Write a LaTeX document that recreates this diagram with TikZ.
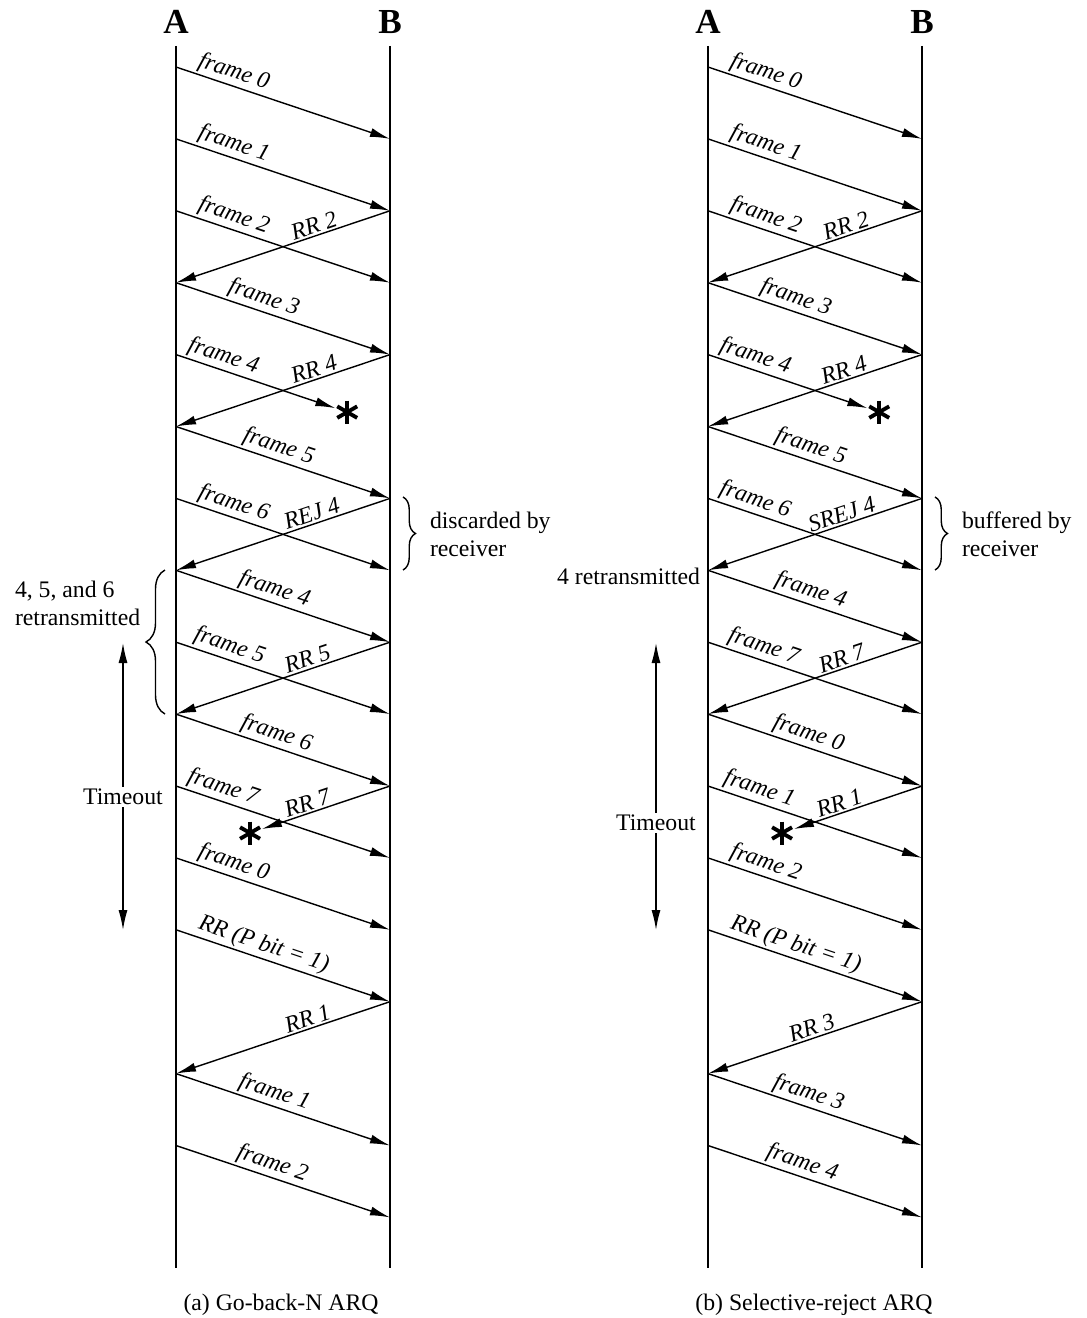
\documentclass[tikz,border=0pt]{standalone}
\usepackage{fontspec}
\setmainfont{Liberation Serif}
\usetikzlibrary{arrows.meta,calc,decorations.pathreplacing}

\begin{document}
\begin{tikzpicture}[x=0.02cm, y=-0.02cm, line width=0.8pt]
\tikzset{ >={Latex[length=0.4cm, width=0.18cm]}, inner sep=0pt, outer sep=0pt,
  msg/.style={->},
  lbl/.style={sloped, above=1.5pt, font=\fontsize{13.5}{16}\selectfont\itshape},
  note/.style={font=\fontsize{13.5}{16}\selectfont, align=left},
  party/.style={font=\fontsize{20}{24}\selectfont\bfseries},
  lost/.style={circle, fill=white, minimum size=0.5cm, path picture={
      \foreach \ang in {90,30,-30}
        \draw [line width=2.2pt] (path picture bounding box.center) +(\ang:0.23cm) -- +(\ang+180:0.23cm);}},
  curly/.style={decorate, decoration={brace, amplitude=#1}},
}

\useasboundingbox (0,0) rectangle (1087,1318);
%\draw [lightgray, dashed] (0,0) grid [step=100] (1087,1318);

% time slots on both stations
\foreach \k in {0,...,16} {
  \coordinate (La\k) at (176,{67+71.9*\k});
  \coordinate (Lb\k) at (390,{67+71.9*\k});
  \coordinate (Ra\k) at (708,{67+71.9*\k});
  \coordinate (Rb\k) at (922,{67+71.9*\k});
}

\node [party] (LA) at (176,22) {A};
\node [party] (LB) at (390,22) {B};
\node [party] (RA) at (708,22) {A};
\node [party] (RB) at (922,22) {B};

\coordinate (LAtop) at (176,46);  \coordinate (LAbot) at (176,1268);
\coordinate (LBtop) at (390,46);  \coordinate (LBbot) at (390,1268);
\coordinate (RAtop) at (708,46);  \coordinate (RAbot) at (708,1268);
\coordinate (RBtop) at (922,46);  \coordinate (RBbot) at (922,1268);

\draw (LAtop) -- (LAbot);
\draw (LBtop) -- (LBbot);
\draw (RAtop) -- (RAbot);
\draw (RBtop) -- (RBbot);

% (a) go-back-N
\node [lost] (Ls1) at ($(La4)!0.8!(Lb5)$) {};
\node [lost] (Ls2) at ($(Lb10)!0.654!(La11)$) {};

\draw [msg] (La0)  -- node [lbl, pos=0.25] {frame 0} (Lb1);
\draw [msg] (La1)  -- node [lbl, pos=0.25] {frame 1} (Lb2);
\draw [msg] (La2)  -- node [lbl, pos=0.25] {frame 2} (Lb3);
\draw [msg] (Lb2)  -- node [lbl, pos=0.34] {RR 2} (La3);
\draw [msg] (La3)  -- node [lbl, pos=0.39] {frame 3} (Lb4);
\draw [msg] (La4)  -- node [lbl, pos=0.27] {frame 4} (Ls1);
\draw [msg] (Lb4)  -- node [lbl, pos=0.34] {RR 4} (La5);
\draw [msg] (La5)  -- node [lbl, pos=0.46] {frame 5} (Lb6);
\draw [msg] (La6)  -- node [lbl, pos=0.25] {frame 6} (Lb7);
\draw [msg] (Lb6)  -- node [lbl, pos=0.35] {REJ 4} (La7);
\draw [msg] (La7)  -- node [lbl, pos=0.44] {frame 4} (Lb8);
\draw [msg] (La8)  -- node [lbl, pos=0.23] {frame 5} (Lb9);
\draw [msg] (Lb8)  -- node [lbl, pos=0.37] {RR 5} (La9);
\draw [msg] (La9)  -- node [lbl, pos=0.45] {frame 6} (Lb10);
\draw [msg] (La10) -- node [lbl, pos=0.2]  {frame 7} (Lb11);
\draw [msg] (Lb10) -- node [lbl, pos=0.62] {RR 7} (Ls2);
\draw [msg] (La11) -- node [lbl, pos=0.25] {frame 0} (Lb12);
\draw [msg] (La12) -- node [lbl, pos=0.39] {RR (P bit = 1)} (Lb13);
\draw [msg] (Lb13) -- node [lbl, pos=0.37] {RR 1} (La14);
\draw [msg] (La14) -- node [lbl, pos=0.44] {frame 1} (Lb15);
\draw [msg] (La15) -- node [lbl, pos=0.43] {frame 2} (Lb16);

\coordinate (Ld1) at (403,497);  \coordinate (Ld2) at (403,570);
\draw [curly=0.25cm] (Ld1) -- (Ld2);
\node [note, anchor=west] (Ldisc) at (430,534) {discarded by\\receiver};

\coordinate (Lr1) at (165,714);  \coordinate (Lr2) at (165,570);
\draw [curly=0.38cm] (Lr1) -- (Lr2);
\node [note, anchor=west] (Lretx) at (15,603) {4, 5, and 6\\retransmitted};

\coordinate (Lt1) at (123,643);  \coordinate (Lt2) at (123,930);
\draw [<->] (Lt1) -- (Lt2);
\node [note, fill=white, inner sep=1pt] (Ltime) at (123,797) {Timeout};

\node [note] (Lcap) at (281,1305) {(a) Go-back-N ARQ};

% (b) selective-reject
\node [lost] (Rs1) at ($(Ra4)!0.8!(Rb5)$) {};
\node [lost] (Rs2) at ($(Rb10)!0.654!(Ra11)$) {};

\draw [msg] (Ra0)  -- node [lbl, pos=0.25] {frame 0} (Rb1);
\draw [msg] (Ra1)  -- node [lbl, pos=0.25] {frame 1} (Rb2);
\draw [msg] (Ra2)  -- node [lbl, pos=0.25] {frame 2} (Rb3);
\draw [msg] (Rb2)  -- node [lbl, pos=0.34] {RR 2} (Ra3);
\draw [msg] (Ra3)  -- node [lbl, pos=0.39] {frame 3} (Rb4);
\draw [msg] (Ra4)  -- node [lbl, pos=0.27] {frame 4} (Rs1);
\draw [msg] (Rb4)  -- node [lbl, pos=0.35] {RR 4} (Ra5);
\draw [msg] (Ra5)  -- node [lbl, pos=0.46] {frame 5} (Rb6);
\draw [msg] (Ra6)  -- node [lbl, pos=0.2]  {frame 6} (Rb7);
\draw [msg] (Rb6)  -- node [lbl, pos=0.36] {SREJ 4} (Ra7);
\draw [msg] (Ra7)  -- node [lbl, pos=0.46] {frame 4} (Rb8);
\draw [msg] (Ra8)  -- node [lbl, pos=0.24] {frame 7} (Rb9);
\draw [msg] (Rb8)  -- node [lbl, pos=0.36] {RR 7} (Ra9);
\draw [msg] (Ra9)  -- node [lbl, pos=0.45] {frame 0} (Rb10);
\draw [msg] (Ra10) -- node [lbl, pos=0.22] {frame 1} (Rb11);
\draw [msg] (Rb10) -- node [lbl, pos=0.62] {RR 1} (Rs2);
\draw [msg] (Ra11) -- node [lbl, pos=0.25] {frame 2} (Rb12);
\draw [msg] (Ra12) -- node [lbl, pos=0.39] {RR (P bit = 1)} (Rb13);
\draw [msg] (Rb13) -- node [lbl, pos=0.5]  {RR 3} (Ra14);
\draw [msg] (Ra14) -- node [lbl, pos=0.45] {frame 3} (Rb15);
\draw [msg] (Ra15) -- node [lbl, pos=0.42] {frame 4} (Rb16);

\coordinate (Rd1) at (935,497);  \coordinate (Rd2) at (935,570);
\draw [curly=0.25cm] (Rd1) -- (Rd2);
\node [note, anchor=west] (Rbuf) at (962,534) {buffered by\\receiver};

\node [note, anchor=east] (Rretx) at (700,576) {4 retransmitted};

\coordinate (Rt1) at (656,643);  \coordinate (Rt2) at (656,930);
\draw [<->] (Rt1) -- (Rt2);
\node [note, fill=white, inner sep=1pt] (Rtime) at (656,823) {Timeout};

\node [note] (Rcap) at (814,1305) {(b) Selective-reject ARQ};

\end{tikzpicture}
\end{document}
